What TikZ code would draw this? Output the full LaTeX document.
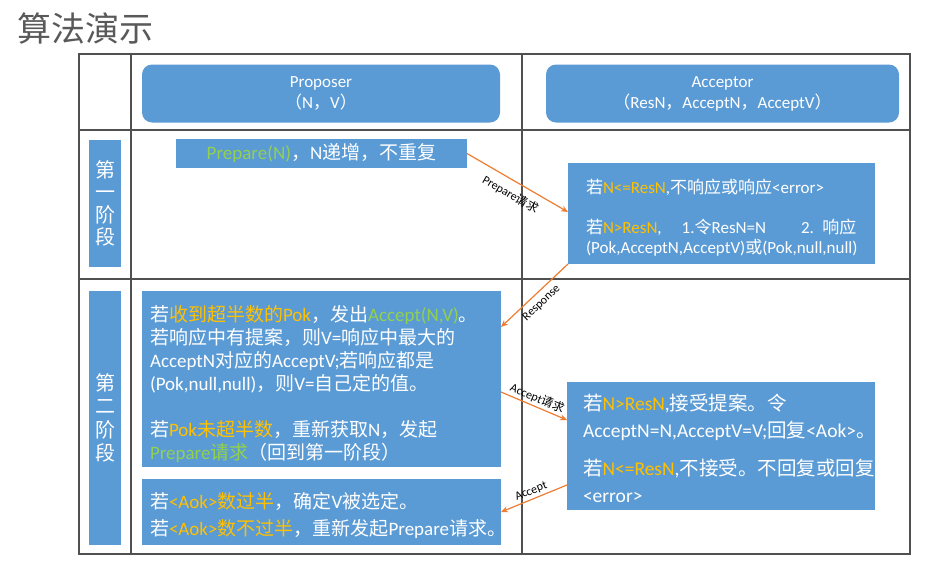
\documentclass[tikz,border=0pt]{standalone}
\usepackage{fontspec}
\setmainfont{Carlito}
\newfontfamily\cj{Noto Sans CJK SC}
\usetikzlibrary{calc,arrows.meta}
\definecolor{boxblue}{HTML}{5B9BD5}
\definecolor{arrorange}{HTML}{ED7D31}
\definecolor{hlyellow}{HTML}{FFC000}
\definecolor{hlgreen}{HTML}{92D050}
\definecolor{titlegray}{HTML}{595959}
\definecolor{gridgray}{HTML}{505050}
\newcommand{\hy}[1]{\textcolor{hlyellow}{#1}}
\newcommand{\hg}[1]{\textcolor{hlgreen}{#1}}
\newcommand{\strutup}[1]{\rule{0pt}{#1}}
\tikzset{
  bluebox/.style={fill=boxblue, text=white, inner ysep=0pt, outer sep=0pt},
  headbox/.style={bluebox, rounded corners=10pt, align=center,
    font=\fontsize{17}{21}\selectfont},
  phasebox/.style={bluebox, inner xsep=0pt, align=center,
    font=\cj\fontsize{20}{22.5}\selectfont},
  textbox/.style={bluebox, inner xsep=8pt, align=left},
  grid/.style={draw=gridgray, line width=1.1pt},
  msg/.style={draw=arrorange, line width=1.2pt, -{Stealth[length=7pt,width=6pt]}},
  msglabel/.style={font=\fontsize{12}{13}\selectfont, text=black, inner sep=1pt, sloped}
}
\begin{document}
\begin{tikzpicture}[x=1pt,y=-1pt]
\useasboundingbox (0,0) rectangle (946,579);
% title
\node[anchor=west, text=titlegray, inner sep=0pt, font=\cj\fontsize{34}{36}\selectfont] (title) at (17,29) {算法演示};
% table grid
\draw[grid] (79,54) rectangle (910,554);
\draw[grid] (131,54) -- (131,554);
\draw[grid] (522,54) -- (522,554);
\draw[grid] (79,130) -- (910,130);
\draw[grid] (79,279) -- (910,279);
% headers
\node[headbox, minimum width=358pt, minimum height=58pt] (hprop) at (321,93.5) {Proposer\\{\cj （}N{\cj ，}V{\cj ）}};
\node[headbox, minimum width=353pt, minimum height=58pt] (hacc) at (722.5,93.5) {Acceptor\\{\cj （}ResN{\cj ，}AcceptN{\cj ，}AcceptV{\cj ）}};
% phase labels
\node[phasebox, minimum width=32pt, minimum height=127pt] (ph1) at (105,203.5) {第\\一\\阶\\段};
\node[phasebox, minimum width=32pt, minimum height=254pt, font=\cj\fontsize{20}{23.5}\selectfont] (ph2) at (105,418) {第\\二\\阶\\段};
% phase 1 boxes
\node[bluebox, minimum width=291pt, minimum height=29pt, font=\fontsize{19}{22}\selectfont] (prep) at (321.5,153.5) {\hg{Prepare(N)}{\cj ，}N{\cj 递增，不重复}};
\node[textbox, inner xsep=18pt, text width=271pt, minimum height=101pt, font=\fontsize{17}{20}\selectfont] (acc1) at (721.5,213.5)
  {\strutup{23pt}{\cj 若}\hy{N<=ResN},{\cj 不响应或响应}<error>\\[20pt]
   {\cj 若}\hy{N>ResN},\hspace{20pt}1.{\cj 令}ResN=N\hspace{35pt}2. {\cj 响应}\\
   (Pok,AcceptN,AcceptV){\cj 或}(Pok,null,null)};
% phase 2 boxes
\node[textbox, text width=343pt, minimum height=176pt, font=\fontsize{19}{23}\selectfont] (p2) at (321.5,379)
  {\strutup{26pt}{\cj 若}\hy{{\cj 收到超半数的}Pok}{\cj ，发出}\hg{Accept(N,V)}{\cj 。}\\
   {\cj 若响应中有提案，则}V={\cj 响应中最大的}\\
   AcceptN{\cj 对应的}AcceptV;{\cj 若响应都是}\\
   (Pok,null,null){\cj ，则}V={\cj 自己定的值。}\\[23pt]
   {\cj 若}\hy{Pok{\cj 未超半数}}{\cj ，重新获取}N{\cj ，发起}\\
   \hg{Prepare{\cj 请求}}{\cj （回到第一阶段）}};
\node[textbox, text width=343pt, minimum height=66pt, font=\fontsize{19}{27}\selectfont] (p3) at (321.5,512)
  {\strutup{23pt}{\cj 若}\hy{<Aok>{\cj 数过半}}{\cj ，确定}V{\cj 被选定。}\\
   {\cj 若}\hy{<Aok>{\cj 数不过半}}{\cj ，重新发起}Prepare{\cj 请求。}};
\node[textbox, inner xsep=16pt, text width=276pt, minimum height=128pt, font=\fontsize{19.5}{27}\selectfont] (acc2) at (721,446)
  {\strutup{22pt}{\cj 若}\hy{N>ResN},{\cj 接受提案。令}\\
   AcceptN=N,AcceptV=V;{\cj 回复}<Aok>{\cj 。}\\[11pt]
   {\cj 若}\hy{N<=ResN},{\cj 不接受。不回复或回复}\\
   <error>};
% messages
\draw[msg] (prep.east) -- node[msglabel, below=6pt] {Prepare{\cj 请求}} ($(acc1.west)+(0,-1.5)$);
\draw[msg] (acc1.south west) -- node[msglabel, below=4pt] {Response} ($(p2.north east)+(0,36)$);
\draw[msg] ($(p2.north east)+(0,101)$) -- node[msglabel, above=1pt] {Accept{\cj 请求}} ($(acc2.west)+(0,-26)$);
\draw[msg] ($(acc2.west)+(0,39)$) -- node[msglabel, above=1pt] {Accept} (p3.east);
\end{tikzpicture}
\end{document}
